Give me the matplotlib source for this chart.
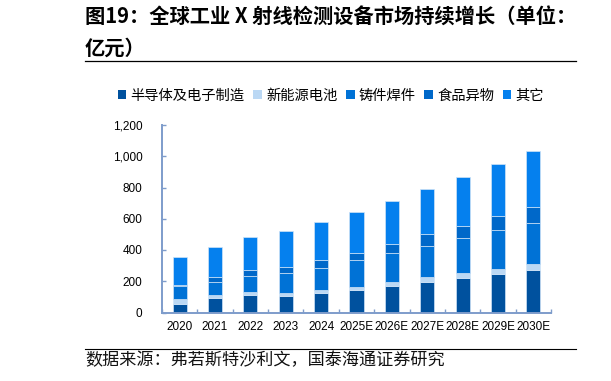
import matplotlib
matplotlib.use("Agg")
import matplotlib.pyplot as plt
from matplotlib.lines import Line2D
from matplotlib.patches import Patch
import numpy as np

plt.rcParams['font.family'] = ['Liberation Sans', 'Noto Sans CJK SC', 'DejaVu Sans']

years = ["2020", "2021", "2022", "2023", "2024", "2025E", "2026E", "2027E", "2028E", "2029E", "2030E"]
series_names = ["半导体及电子制造", "新能源电池", "铸件焊件", "食品异物", "其它"]
semiconductor = [57, 95, 110, 105, 123, 145, 171, 197, 222, 248, 274]
battery = [30, 18, 19, 19, 24, 21, 24, 30, 30, 32, 38]
casting = [84, 80, 103, 129, 140, 169, 184, 199, 222, 248, 261]
food = [8, 37, 39, 39, 49, 49, 58, 75, 81, 88, 105]
others = [176, 191, 211, 230, 243, 259, 276, 291, 314, 336, 357]
yticks = [0, 200, 400, 600, 800, 1000, 1200]
ytick_labels = ["0", "200", "400", "600", "800", "1,000", "1,200"]

colors = ["#00519E", "#BBD8F4", "#0072D6", "#0068C9", "#0580EE"]
axis_color = "#7E9CCB"
cjk = ['Noto Sans CJK SC', 'DejaVu Sans']

W, H = 611, 381
fig = plt.figure(figsize=(W / 100, H / 100), dpi=100)
ax = fig.add_axes([162 / W, 1 - 312.5 / H, (551 - 162) / W, (312.5 - 125) / H])

x = np.arange(len(years))
bottom = np.zeros(len(years))
for vals, col in zip([semiconductor, battery, casting, food, others], colors):
    ax.bar(x, vals, width=0.40, bottom=bottom, color=col, edgecolor="#CFE3F7", linewidth=0.5)
    bottom += np.array(vals)

ax.set_xlim(-0.5, len(years) - 0.5)
ax.set_ylim(0, 1200)
ax.set_yticks(yticks)
ax.set_yticklabels(ytick_labels, fontsize=8.5, color="#000000")
ax.set_xticks(x)
ax.set_xticklabels(years, fontsize=8.5)
ax.set_xticks(np.arange(len(years) + 1) - 0.5, minor=True)
ax.tick_params(axis='x', which='major', length=0, pad=6)
ax.tick_params(axis='x', which='minor', length=3, color=axis_color, direction='in', width=1)
ax.tick_params(axis='y', length=3, color=axis_color, direction='in', width=1, pad=14)
for s in ["top", "right"]:
    ax.spines[s].set_visible(False)
for s in ["left", "bottom"]:
    ax.spines[s].set_color(axis_color)
    ax.spines[s].set_linewidth(1.4)

# Title
fig.text(85 / W, 1 - 7 / H, "图19：全球工业 X 射线检测设备市场持续增长（单位：\n亿元）",
         fontsize=14.6, fontweight='bold', va='top', ha='left',
         family=cjk, linespacing=1.55)
fig.add_artist(Line2D([85 / W, 576 / W], [1 - 61 / H] * 2, color='black', lw=0.9))

# Legend
handles = [Patch(facecolor=c, edgecolor='none') for c in colors]
leg = fig.legend(handles, series_names, loc='center', bbox_to_anchor=(331 / W, 1 - 96 / H),
                 ncol=5, frameon=False, handlelength=0.6, handleheight=0.6,
                 handletextpad=0.3, columnspacing=0.6,
                 prop={'family': cjk, 'size': 10.3})

# Source
fig.add_artist(Line2D([85 / W, 576 / W], [1 - 349 / H] * 2, color='black', lw=0.8))
fig.text(85 / W, 1 - 360 / H, "数据来源：弗若斯特沙利文，国泰海通证券研究", fontsize=12.3,
         va='center', ha='left', family=cjk, color='#111111')

fig.savefig("out.png", dpi=100)
